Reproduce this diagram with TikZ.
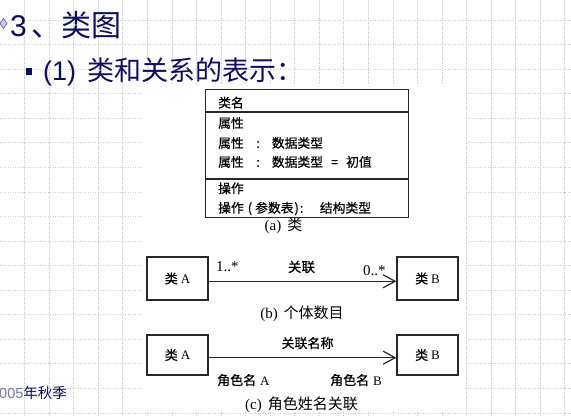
\documentclass[tikz,border=0pt]{standalone}
\usepackage{fontspec}
\setmainfont{Liberation Sans}
\newfontfamily\cjk{Noto Sans CJK SC}
\newfontfamily\cjkb{Noto Sans CJK SC}[FakeBold=0.6]
\newfontfamily\tms{Liberation Serif}
\usetikzlibrary{arrows.meta}

\definecolor{titleblue}{RGB}{14,14,92}
\definecolor{gridgray}{RGB}{208,208,208}
\definecolor{bulletfill}{RGB}{205,205,238}
\definecolor{bulletline}{RGB}{120,110,170}
\definecolor{footgray}{RGB}{120,120,150}
\definecolor{boxgray}{RGB}{40,40,40}

\tikzset{
  gridline/.style={draw=gridgray, line width=0.7pt, dash pattern=on 1.2pt off 1.3pt},
  umlbox/.style={draw=boxgray, line width=1.2pt, fill=white, inner sep=0pt},
  assoc/.style={draw=boxgray, line width=1.2pt},
  lbl/.style={inner sep=0pt, text=black},
  opentip/.style={-{Straight Barb[length=12pt,width=13pt]}},
}

\begin{document}
\begin{tikzpicture}[x=1pt,y=-1pt]
\useasboundingbox (0,0) rectangle (571,417);
\fill[white] (0,0) rectangle (571,417);

% slide grid
\foreach \i in {0,...,22}{\draw[gridline] ({24.6+24.55*\i},0) -- ({24.6+24.55*\i},417);}
\foreach \j in {0,...,16}{\draw[gridline] (0,{20+24.56*\j}) -- (571,{20+24.56*\j});}

% white panel behind the figure
\fill[white] (143,85) rectangle (466,411);

% bullets
\filldraw[fill=bulletfill, draw=bulletline, line width=0.8pt]
  (0,23.5) -- (3.5,18.5) -- (7,23.5) -- (3.5,28.5) -- cycle;
\fill[titleblue] (25.5,68.5) rectangle (32,75);

% headings
\node[lbl, anchor=base west, text=titleblue] (title) at (10,37)
  {\fontsize{30}{30}\selectfont 3\hspace{5pt}{\cjk 、类图}};
\node[lbl, anchor=base west, text=titleblue] (sub) at (43,81)
  {\fontsize{27}{27}\selectfont (1)\hspace{11pt}{\cjk 类和关系的表示：}};
\node[lbl, anchor=base west] (foot) at (-1,398)
  {\fontsize{14.5}{14.5}\selectfont\color{footgray}005{\cjk\color{titleblue}年秋季}};

% (a) class box
\node[umlbox, minimum width=203pt, minimum height=128pt, anchor=north west] (cls) at (205,89) {};
\coordinate (d1) at (0,112);
\coordinate (d2) at (0,179);
\draw[assoc] (cls.west |- d1) -- (cls.east |- d1);
\draw[assoc] (cls.west |- d2) -- (cls.east |- d2);

\begin{scope}[every node/.style={lbl, anchor=base west, font=\cjkb\fontsize{12.8}{12.8}\selectfont}]
\node (n1) at (218,107.5) {类名};
\node (n2) at (218,127.8) {属性};
\node (n3) at (218,147.8) {属性\hspace{12.5pt}:\hspace{12pt}数据类型};
\node (n4) at (218,166.8) {属性\hspace{12.5pt}:\hspace{12pt}数据类型\hspace{8pt}=\hspace{8pt}初值};
\node (n5) at (218,193.2) {操作};
\node (n6) at (218,212.7) {操作\hspace{4pt}(\hspace{3pt}参数表\hspace{1pt})\hspace{1pt}:\hspace{16.5pt}结构类型};
\end{scope}
\node[lbl, anchor=base] (capa) at (283.5,230.7)
  {\fontsize{15}{15}\selectfont{\tms (a)}\hspace{6pt}{\cjk 类}};

% (b) multiplicities
\node[umlbox, minimum width=61pt, minimum height=43pt] (ba) at (177.5,278.5)
  {\fontsize{13}{13}\selectfont{\cjkb 类}\hspace{3pt}{\tms A}};
\node[umlbox, minimum width=61pt, minimum height=43pt] (bb) at (427.5,278.5)
  {\fontsize{13}{13}\selectfont{\cjkb 类}\hspace{3pt}{\tms B}};
\draw[assoc, opentip] ([yshift=-2.8pt]ba.east) -- ([yshift=-2.8pt]bb.west);
\node[lbl, anchor=base west] (m1) at (216,272) {\tms\fontsize{15}{15}\selectfont 1..*};
\node[lbl, anchor=base] (r1) at (301.5,272) {\cjkb\fontsize{13.5}{13.5}\selectfont 关联};
\node[lbl, anchor=base west] (m2) at (363,276) {\tms\fontsize{15}{15}\selectfont 0..*};
\node[lbl, anchor=base] (capb) at (302,318)
  {\fontsize{15}{15}\selectfont{\tms (b)}\hspace{6pt}{\cjk 个体数目}};

% (c) role names
\node[umlbox, minimum width=61pt, minimum height=40pt] (ca) at (177.5,355)
  {\fontsize{13}{13}\selectfont{\cjkb 类}\hspace{3pt}{\tms A}};
\node[umlbox, minimum width=61pt, minimum height=40pt] (cb) at (427.5,355)
  {\fontsize{13}{13}\selectfont{\cjkb 类}\hspace{3pt}{\tms B}};
\draw[assoc, opentip] ([yshift=-2.7pt]ca.east) -- ([yshift=-2.7pt]cb.west);
\node[lbl, anchor=base] (r2) at (307.5,348) {\cjkb\fontsize{13}{13}\selectfont 关联名称};
\node[lbl, anchor=base west] (ra) at (217,385)
  {\fontsize{13}{13}\selectfont{\cjkb 角色名}\hspace{4pt}{\tms A}};
\node[lbl, anchor=base west] (rb) at (330,385)
  {\fontsize{13}{13}\selectfont{\cjkb 角色名}\hspace{4pt}{\tms B}};
\node[lbl, anchor=base] (capc) at (301.5,409.7)
  {\fontsize{15}{15}\selectfont{\tms (c)}\hspace{6pt}{\cjk 角色姓名关联}};
\end{tikzpicture}
\end{document}
